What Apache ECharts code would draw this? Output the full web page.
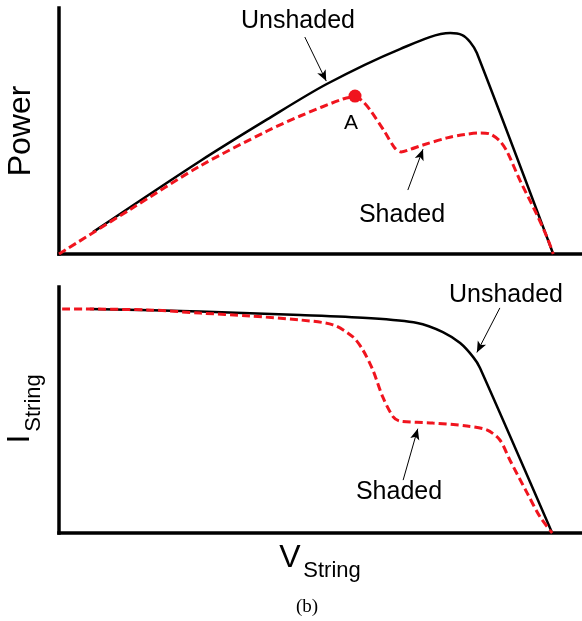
<!DOCTYPE html>
<html lang="en">
<head>
    <meta charset="UTF-8">
    <title>String power and current, shaded vs unshaded</title>
    <script src="https://cdn.jsdelivr.net/npm/echarts@6/dist/echarts.min.js"></script>
    <style>
        html, body{
            margin: 0;
            padding: 0;
            background: #fff;
        }
        #chart{
            width: 582px;
            height: 621px;
        }
    </style>
</head>
<body>
<div id="chart"></div>

<script>
    /* P-V curve, unshaded (arbitrary units, 0..100) */
    var v_p_unshaded = [6.5, 27.0, 39.8, 51.2, 65.2, 74.8, 77.1, 78.6, 79.9, 94.5];
    var p_unshaded   = [8.9, 37.8, 54.7, 69.1, 83.3, 89.8, 89.0, 86.2, 81.7, 0];

    /* P-V curve, shaded */
    var v_p_shaded = [0, 13.6, 27.0, 39.8, 46.1, 54.3, 56.6, 57.9, 59.5, 62.3, 64.2, 65.4, 67.1, 69.6, 74.2, 77.6, 80.5, 82.4, 84.3, 85.7, 88.1, 91.4, 93.3, 94.5];
    var p_shaded   = [0, 18.1, 35.8, 50.0, 56.1, 63.0, 63.8, 62.4, 58.5, 49.6, 43.1, 41.5, 42.5, 44.3, 47.2, 48.6, 49.2, 48.8, 45.9, 41.5, 30.1, 15.9, 6.9, 0];

    /* point A (local maximum of the shaded curve) */
    var point_a = [56.6, 64.2];

    /* I-V curve, unshaded */
    var v_i_unshaded = [5.9, 27.0, 46.1, 58.9, 68.5, 73.4, 76.7, 79.2, 80.5, 94.3];
    var i_unshaded   = [91.1, 90.0, 88.6, 87.4, 85.4, 81.7, 77.2, 71.5, 67.1, 0];

    /* I-V curve, shaded */
    var v_i_shaded = [0.6, 16.8, 27.0, 36.5, 46.1, 52.4, 56.2, 58.1, 60.0, 61.9, 63.9, 65.2, 71.5, 78.0, 81.8, 84.3, 86.2, 89.5, 92.0, 94.3];
    var i_shaded   = [91.1, 90.7, 89.4, 88.2, 86.6, 84.6, 79.7, 74.4, 66.3, 55.3, 47.2, 45.5, 44.7, 43.5, 41.9, 37.8, 29.7, 16.3, 6.5, 0];

    /* annotation arrows: [from, to] in data units */
    var arrows_power = [
        [[47.0, 88.2], [51.1, 70.3]],
        [[66.7, 26.0], [69.6, 42.6]]
    ];
    var arrows_current = [
        [[84.3, 91.5], [79.9, 73.4]],
        [[65.8, 21.5], [68.6, 42.4]]
    ];

    function pairs(xs, ys){
        var out = [];
        for (var i = 0; i < xs.length; i++) {
            out.push([xs[i], ys[i]]);
        }
        return out;
    }

    function arrowLines(list){
        return list.map(function (a) {
            return [{coord: a[0]}, {coord: a[1]}];
        });
    }

    var black = '#000';
    var red = '#f0141e';
    var sans = '"Liberation Sans", Arial, sans-serif';

    var axisLine = {
        show: true,
        onZero: false,
        lineStyle: {color: black, width: 3.5, cap: 'square'}
    };

    function xAxis(idx){
        return {
            type: 'value', gridIndex: idx, min: 0, max: 100,
            axisLine: axisLine, axisTick: {show: false},
            axisLabel: {show: false}, splitLine: {show: false}
        };
    }

    function arrowMark(list){
        return {
            silent: true,
            symbol: ['none', 'arrow'],
            symbolSize: [7, 11],
            label: {show: false},
            lineStyle: {color: black, width: 1, type: 'solid'},
            emphasis: {disabled: true},
            animation: false,
            data: arrowLines(list)
        };
    }

    function label(text, x, y, size, rot, family){
        return {
            type: 'text',
            x: x, y: y,
            rotation: rot || 0,
            silent: true,
            style: {
                text: text,
                x: 0, y: 0,
                align: 'center',
                verticalAlign: 'middle',
                fill: black,
                font: size + 'px ' + (family || sans)
            }
        };
    }

    var option = {
        animation: false,
        backgroundColor: '#fff',
        grid: [
            {left: 59, right: 0, top: 8, height: 246},
            {left: 59, right: 0, top: 287, height: 246}
        ],
        xAxis: [xAxis(0), xAxis(1)],
        yAxis: [
            {
                type: 'value', gridIndex: 0, min: 0, max: 100,
                axisLine: axisLine, axisTick: {show: false},
                axisLabel: {show: false}, splitLine: {show: false}
            },
            {
                type: 'value', gridIndex: 1, min: 0, max: 100,
                axisLine: axisLine, axisTick: {show: false},
                axisLabel: {show: false}, splitLine: {show: false}
            }
        ],
        series: [
            {
                name: 'Unshaded P',
                type: 'line', xAxisIndex: 0, yAxisIndex: 0,
                data: pairs(v_p_unshaded, p_unshaded),
                smooth: 0.3, showSymbol: false, silent: true,
                lineStyle: {color: black, width: 2.5},
                markLine: arrowMark(arrows_power)
            },
            {
                name: 'Shaded P',
                type: 'line', xAxisIndex: 0, yAxisIndex: 0,
                data: pairs(v_p_shaded, p_shaded),
                smooth: 0.3, showSymbol: false, silent: true,
                lineStyle: {color: red, width: 3, type: [8, 4]}
            },
            {
                name: 'A',
                type: 'scatter', xAxisIndex: 0, yAxisIndex: 0,
                data: [point_a],
                symbolSize: 13, silent: true,
                itemStyle: {color: red, opacity: 1}
            },
            {
                name: 'Unshaded I',
                type: 'line', xAxisIndex: 1, yAxisIndex: 1,
                data: pairs(v_i_unshaded, i_unshaded),
                smooth: 0.3, showSymbol: false, silent: true,
                lineStyle: {color: black, width: 2.5},
                markLine: arrowMark(arrows_current)
            },
            {
                name: 'Shaded I',
                type: 'line', xAxisIndex: 1, yAxisIndex: 1,
                data: pairs(v_i_shaded, i_shaded),
                smooth: 0.3, showSymbol: false, silent: true,
                lineStyle: {color: red, width: 3, type: [8, 4]}
            }
        ],
        graphic: [
            label('Unshaded', 298, 21, 25),
            label('A', 351, 123, 21),
            label('Shaded', 402, 215, 25),
            label('Unshaded', 506, 295, 25),
            label('Shaded', 399, 492, 25),
            label('Power', 21, 131, 32, Math.PI / 2),
            label('I', 20, 439, 32, Math.PI / 2),
            label('String', 33.5, 403, 22, Math.PI / 2),
            label('V', 290, 558, 32),
            label('String', 332, 571, 22),
            label('(b)', 307, 607, 19, 0, '"Liberation Serif", "Times New Roman", serif')
        ]
    };

    var chart = echarts.init(document.getElementById('chart'));
    chart.setOption(option);
</script>
</body>
</html>
